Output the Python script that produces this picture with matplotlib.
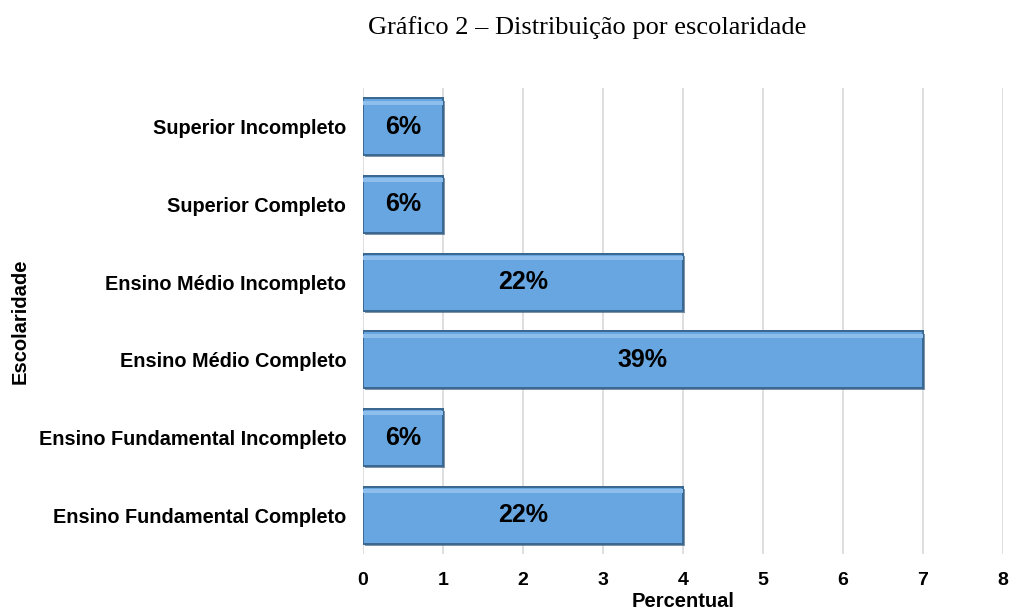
import matplotlib.pyplot as plt
import matplotlib.patheffects as pe

categorias = ['Ensino Fundamental Completo', 'Ensino Fundamental Incompleto',
              'Ensino Médio Completo', 'Ensino Médio Incompleto',
              'Superior Completo', 'Superior Incompleto']
valores = [4, 1, 7, 4, 1, 1]
rotulos = ['22%', '6%', '39%', '22%', '6%', '6%']

plt.rcParams['font.family'] = ['Liberation Sans', 'DejaVu Sans']

fig = plt.figure(figsize=(10.09, 6.14), dpi=100)
ax = fig.add_axes([0.3598, 0.0977, 0.634, 0.759])

pos = list(range(len(categorias)))
barras = ax.barh(pos, valores, height=0.73, color='#67a6e0',
                 edgecolor='#3a6890', linewidth=1.4, zorder=3)
# brilho superior para imitar o relevo
ax.barh([p + 0.31 for p in pos], valores, height=0.05, color='#8dbeec',
        linewidth=0, zorder=4)
for b in barras:
    b.set_path_effects([pe.withSimplePatchShadow(offset=(1.5, -1.5), shadow_rgbFace='#2b4d6e', alpha=0.6), pe.Normal()])

for p, v, r in zip(pos, valores, rotulos):
    ax.text(v / 2, p, r, ha='center', va='center', fontsize=18,
            fontweight='bold', color='black', zorder=5)

ax.set_xlim(0, 8)
ax.set_ylim(-0.5, len(categorias) - 0.5)
ax.set_xticks(range(9))
ax.set_yticks(pos)
ax.set_yticklabels(categorias, fontsize=14.3, fontweight='bold')
for t in ax.get_xticklabels():
    t.set_fontsize(14)
    t.set_fontweight('bold')
ax.tick_params(axis='y', length=0, pad=12)
ax.tick_params(axis='x', length=0, pad=13)
ax.grid(axis='x', color='#d9d9d9', linewidth=1.2, zorder=0)
ax.set_axisbelow(True)
for s in ax.spines.values():
    s.set_visible(False)

ax.set_xlabel('Percentual', fontsize=14.5, fontweight='bold', labelpad=2)
fig.text(0.02, 0.476, 'Escolaridade', rotation=90, ha='center', va='center',
         fontsize=14.5, fontweight='bold')
fig.text(0.582, 0.955, 'Gráfico 2 – Distribuição por escolaridade', ha='center',
         va='center', fontsize=19, family=['Liberation Serif', 'DejaVu Serif'])

fig.savefig('out.png', dpi=100)
